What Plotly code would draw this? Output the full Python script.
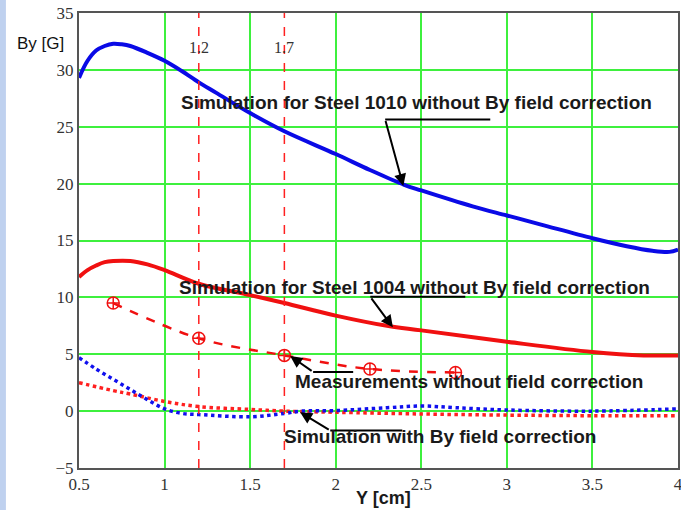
import plotly.graph_objects as go

# --- data ---
steel1010_x = [0.5, 0.55, 0.6, 0.65, 0.7, 0.75, 0.8, 0.9, 1.0, 1.1, 1.2, 1.3, 1.5, 1.7, 2.0, 2.2, 2.4, 2.5, 2.8, 3.0, 3.2, 3.5, 3.7, 3.85, 3.95, 4.0]
steel1010_y = [29.3, 30.8, 31.7, 32.1, 32.3, 32.25, 32.1, 31.5, 30.8, 29.9, 28.9, 28.0, 26.2, 24.6, 22.6, 21.2, 19.9, 19.4, 18.0, 17.2, 16.4, 15.2, 14.5, 14.1, 14.0, 14.2]

steel1004_x = [0.5, 0.55, 0.6, 0.65, 0.7, 0.8, 0.9, 1.0, 1.2, 1.5, 1.7, 2.0, 2.3, 2.5, 3.0, 3.5, 3.8, 4.0]
steel1004_y = [11.8, 12.4, 12.8, 13.1, 13.2, 13.2, 12.9, 12.4, 11.2, 10.2, 9.5, 8.4, 7.5, 7.1, 6.1, 5.2, 4.9, 4.9]

meas_x = [0.7, 1.2, 1.7, 2.2, 2.7]
meas_y = [9.5, 6.4, 4.9, 3.7, 3.4]

corr_blue_x = [0.5, 0.6, 0.7, 0.8, 0.9, 1.0, 1.1, 1.2, 1.5, 1.7, 1.8, 2.0, 2.3, 2.5, 2.7, 3.0, 3.5, 4.0]
corr_blue_y = [4.7, 3.7, 2.8, 1.9, 1.0, 0.2, -0.2, -0.3, -0.5, -0.2, 0.0, 0.05, 0.3, 0.45, 0.3, 0.1, 0.0, 0.2]

corr_red_x = [0.5, 0.7, 0.8, 1.0, 1.2, 1.5, 1.7, 2.0, 2.5, 3.0, 3.5, 4.0]
corr_red_y = [2.5, 1.8, 1.5, 0.85, 0.4, 0.15, 0.0, -0.1, -0.25, -0.35, -0.4, -0.4]

marker_lines_x = [1.2, 1.7]
marker_labels = ["1.2", "1.7"]

x_ticks = [0.5, 1, 1.5, 2, 2.5, 3, 3.5, 4]
x_tick_text = ["0.5", "1", "1.5", "2", "2.5", "3", "3.5", "4"]
y_ticks = [-5, 0, 5, 10, 15, 20, 25, 30, 35]

fig = go.Figure()

fig.add_trace(go.Scatter(x=corr_red_x, y=corr_red_y, mode="lines",
                         line=dict(color="#ff2020", width=3.5, dash="dot", shape="spline")))
fig.add_trace(go.Scatter(x=corr_blue_x, y=corr_blue_y, mode="lines",
                         line=dict(color="#1010ee", width=3.5, dash="dot", shape="spline")))
fig.add_trace(go.Scatter(x=steel1010_x, y=steel1010_y, mode="lines",
                         line=dict(color="#0a0ae6", width=4, shape="spline")))
fig.add_trace(go.Scatter(x=steel1004_x, y=steel1004_y, mode="lines",
                         line=dict(color="#f01010", width=4, shape="spline")))
fig.add_trace(go.Scatter(x=meas_x, y=meas_y, mode="lines+markers",
                         line=dict(color="#f01010", width=2.5, dash="dash", shape="spline"),
                         marker=dict(symbol="circle-cross-open", size=12, color="#f01010",
                                     line=dict(width=1.5, color="#f01010"))))

# vertical red dashed markers
for xv, lab in zip(marker_lines_x, marker_labels):
    fig.add_shape(type="line", x0=xv, x1=xv, y0=-5, y1=35, xref="x", yref="y",
                  line=dict(color="#ff2020", width=1.5, dash="dash"))
    fig.add_annotation(x=xv, y=32.0, text=lab, showarrow=False,
                       font=dict(family="Liberation Serif", size=16, color="#333333"))

txt_font = dict(family="Liberation Sans", size=19, color="#1a1a1a")

def label(x, y, text):
    fig.add_annotation(x=x, y=y, text="<b>" + text + "</b>", showarrow=False, font=txt_font)

def pointer(ux0, ux1, uy, tx, ty):
    fig.add_shape(type="line", x0=ux0, x1=ux1, y0=uy, y1=uy, xref="x", yref="y",
                  line=dict(color="black", width=2))
    fig.add_annotation(x=tx, y=ty, ax=ux0, ay=uy, axref="x", ayref="y", xref="x", yref="y",
                       text="", showarrow=True, arrowhead=2, arrowsize=1.2,
                       arrowwidth=2, arrowcolor="black")

label(2.474, 27.13, "Simulation for Steel 1010 without By field correction")
pointer(2.289, 2.903, 25.63, 2.395, 19.8)

label(2.459, 10.9, "Simulation for Steel 1004 without By field correction")
pointer(2.202, 2.757, 10.05, 2.334, 7.37)

label(2.778, 2.57, "Measurements without field correction")
pointer(1.868, 2.102, 3.45, 1.734, 4.85)

label(2.611, -2.25, "Simulation with By field correction")
pointer(1.968, 2.389, -1.70, 1.792, -0.09)

# axis titles
fig.add_annotation(xref="paper", yref="paper", x=-0.065, y=0.934, text="By [G]",
                   xanchor="center", yanchor="middle",
                   showarrow=False, font=dict(family="Liberation Sans", size=17, color="#111111"))
fig.add_annotation(xref="paper", yref="paper", x=0.508, y=-0.066, text="<b>Y [cm]</b>",
                   xanchor="center", yanchor="middle",
                   showarrow=False, font=dict(family="Liberation Sans", size=18, color="#1a1a1a"))

# left decorative strip
fig.add_shape(type="rect", xref="paper", yref="paper", x0=-0.132, x1=-0.122, y0=-0.1, y1=1.05,
              fillcolor="#bfd1ef", line=dict(width=0), layer="below")

fig.update_layout(
    width=681, height=510,
    margin=dict(l=79, r=3, t=13, b=42),
    paper_bgcolor="white", plot_bgcolor="white",
    showlegend=False,
    xaxis=dict(range=[0.5, 4], tickvals=x_ticks, ticktext=x_tick_text, automargin=False,
               ticklabeloverflow="allow",
               showgrid=True, gridcolor="#3ef03e", gridwidth=2, zeroline=False,
               showline=True, mirror=True, linecolor="#555555", linewidth=2,
               ticks="", tickfont=dict(family="Liberation Serif", size=17, color="#333333")),
    yaxis=dict(range=[-5, 35], tickvals=y_ticks, automargin=False,
               ticklabeloverflow="allow",
               showgrid=True, gridcolor="#3ef03e", gridwidth=2, zeroline=False,
               showline=True, mirror=True, linecolor="#555555", linewidth=2,
               ticks="", tickfont=dict(family="Liberation Serif", size=17, color="#333333")),
)

fig.write_html("out.html", config={"displayModeBar": False},
               post_script="document.body.style.margin='0px';document.body.style.overflow='hidden';")
